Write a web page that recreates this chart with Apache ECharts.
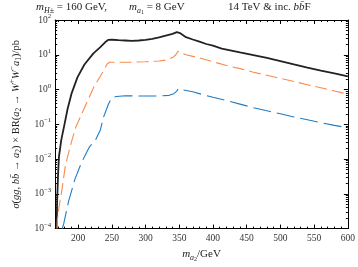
<!DOCTYPE html>
<html><head><meta charset="utf-8">
<script src="https://cdn.jsdelivr.net/npm/echarts@6/dist/echarts.min.js"></script>
<style>html,body{margin:0;padding:0;background:#fff}#c{width:358px;height:267px}</style>
</head><body><div id="c"></div>
<script>
// m_a2 (GeV) and sigma x BR (pb)
const massBlack = [168.2,168.8,170.2,171.6,175,179.6,184.4,190.5,199,209.4,222.7,233,240,245,250,260,270,280,290,300,310,320,330,340,346.5,349,352,360,370,380,390,400,413,440,460,480,500,520,540,560,580,600];
const xsecBlack = [1e-4,5e-4,3.2e-3,0.0115,0.035,0.095,0.275,0.79,2.24,5.25,11.0,16.6,22.9,26.9,27,26.3,25.7,25.1,25.7,26.9,28.8,31.6,35.5,39.8,44.7,47.9,41,32,27.5,24,20.4,18.2,15.1,11.7,9.8,8.1,6.6,5.3,4.3,3.5,2.9,2.4];
const massOrange = [168.8,169.2,171.6,176.3,181,188,196,209.4,223.5,237.7,243.4,247,260,280,300,320,332,340,345,348,352,360,380,400,420,440,460,480,500,520,540,560,580,600];
const xsecOrange = [1e-4,1.7e-4,4e-4,1.41e-3,6.3e-3,0.022,0.078,0.30,1.2,3.47,5.5,6.1,6.1,6.1,6.3,6.6,7.1,8.3,10,12.6,11.5,10,8.1,6.3,4.9,4.0,3.16,2.57,2.09,1.7,1.38,1.12,0.91,0.74];
const massBlue = [176.5,178.7,185.8,195.2,204.7,216.5,226,233,237.7,244.8,249.6,256.7,270,300,320,335,342,346,349,355,370,389,400,420,440,460,480,500,520,540,560,580,600];
const xsecBlue = [1e-4,1.38e-4,6e-4,2.6e-3,7.6e-3,0.022,0.036,0.069,0.16,0.37,0.575,0.63,0.66,0.65,0.65,0.68,0.76,0.89,1.07,0.98,0.86,0.68,0.60,0.48,0.38,0.30,0.245,0.20,0.162,0.135,0.112,0.093,0.079];
const xMajorTicks = [200,250,300,350,400,450,500,550,600];
const xMinorTicks = [170,180,190,210,220,230,240,260,270,280,290,310,320,330,340,360,370,380,390,410,420,430,440,460,470,480,490,510,520,530,540,560,570,580,590];
const yMajorTicks = [1e-4,1e-3,1e-2,1e-1,1,10,100];
const yMinorTicks = [];
for (let e = -4; e < 2; e++) for (let k = 2; k <= 9; k++) yMinorTicks.push(+(k * Math.pow(10, e)).toPrecision(3));

const FONT = 'Liberation Serif';
const zip = (a, b) => a.map((v, i) => [v, b[i]]);
const chart = echarts.init(document.getElementById('c'), null, {renderer: 'canvas'});
function mkRich(fs, col) {
  return {
    i: {fontFamily: FONT, fontStyle: 'italic', fontSize: fs, lineHeight: fs + 5, color: col},
    n: {fontFamily: FONT, fontSize: fs, lineHeight: fs + 5, color: col},
    s: {fontFamily: FONT, fontStyle: 'italic', fontSize: fs * 0.72, lineHeight: fs * 0.6, verticalAlign: 'bottom', color: col},
    sub: {fontFamily: FONT, fontSize: fs * 0.72, lineHeight: fs * 0.6, verticalAlign: 'bottom', color: col},
    ss: {fontFamily: FONT, fontSize: fs * 0.55, lineHeight: fs * 0.3, verticalAlign: 'bottom', color: col},
    sup: {fontFamily: FONT, fontSize: fs * 0.72, lineHeight: fs * 0.6, verticalAlign: 'top', color: col}
  };
}
const titleStyle = {rich: mkRich(11, '#222'), fontFamily: FONT, fontSize: 11, lineHeight: 16, fontWeight: 'normal', color: '#222'};
const axCommon = {type: 'value', min: 166, max: 600, splitLine: {show: false}};
const yCommon = {type: 'log', logBase: 10, min: 1e-4, max: 100, splitLine: {show: false}};
const lineStyle = {color: '#000', width: 1};
chart.setOption({
  animation: false,
  title: [
    {text: '{i|m}{s|H±}{n| = 160 GeV,}', left: 36, top: -1, padding: 0, textStyle: titleStyle},
    {text: '{i|m}{s|a}{ss|1}{n| = 8 GeV}', left: 129, top: -1, padding: 0, textStyle: titleStyle},
    {text: '{n|14 TeV & inc. }{i|bb\u0304}{n|F}', left: 228, top: -1, padding: 0, textStyle: titleStyle}
  ],
  grid: {left: 43, right: 10, top: 20, bottom: 28, containLabel: false},
  xAxis: [
    Object.assign({}, axCommon, {position: 'bottom', axisLine: {show: true, lineStyle},
      axisTick: {show: true, inside: true, length: 4, lineStyle, customValues: xMajorTicks},
      axisLabel: {show: true, customValues: xMajorTicks, fontFamily: FONT, fontSize: 9.5, color: '#333', margin: 5},
      name: '{i|m}{s|a}{ss|2}{n|/GeV}', nameLocation: 'middle', nameGap: 15,
      nameTextStyle: {rich: mkRich(11, '#222'), fontFamily: FONT, fontSize: 11, color: '#222'}}),
    Object.assign({}, axCommon, {position: 'bottom', axisLine: {show: false},
      axisTick: {show: true, inside: true, length: 2, lineStyle, customValues: xMinorTicks}, axisLabel: {show: false}}),
    Object.assign({}, axCommon, {position: 'top', axisLine: {show: true, lineStyle},
      axisTick: {show: true, inside: true, length: 4, lineStyle, customValues: xMajorTicks}, axisLabel: {show: false}}),
    Object.assign({}, axCommon, {position: 'top', axisLine: {show: false},
      axisTick: {show: true, inside: true, length: 2, lineStyle, customValues: xMinorTicks}, axisLabel: {show: false}})
  ],
  yAxis: [
    Object.assign({}, yCommon, {position: 'left', axisLine: {show: true, lineStyle},
      axisTick: {show: true, inside: true, length: 4, lineStyle, customValues: yMajorTicks},
      axisLabel: {show: true, customValues: yMajorTicks, margin: 4,
        formatter: v => { const e = Math.round(Math.log10(v)); return '{n|10}{sup|' + (e < 0 ? '\u2212' + (-e) : e) + '}'; },
        rich: mkRich(9.5, '#333')},
      name: '{i|σ}{n|(}{i|gg}{n|, }{i|bb\u0304}{n| → }{i|a}{sub|2}{n|) × BR(}{i|a}{sub|2}{n| → }{i|W}{sup|+}{i|W}{sup|\u2212}{i|a}{sub|1}{n|)/pb}',
      nameLocation: 'middle', nameRotate: 90, nameGap: 27,
      nameTextStyle: {fontFamily: FONT, fontSize: 10.5, color: '#222', rich: mkRich(10.5, '#222')}}),
    Object.assign({}, yCommon, {position: 'left', axisLine: {show: false},
      axisTick: {show: true, inside: true, length: 2, lineStyle, customValues: yMinorTicks}, axisLabel: {show: false}}),
    Object.assign({}, yCommon, {position: 'right', axisLine: {show: true, lineStyle},
      axisTick: {show: true, inside: true, length: 4, lineStyle, customValues: yMajorTicks}, axisLabel: {show: false}}),
    Object.assign({}, yCommon, {position: 'right', axisLine: {show: false},
      axisTick: {show: true, inside: true, length: 2, lineStyle, customValues: yMinorTicks}, axisLabel: {show: false}})
  ],
  series: [
    {type: 'line', data: zip(massBlack, xsecBlack), showSymbol: false, symbol: 'none', clip: true,
      lineStyle: {color: '#222', width: 1.8}},
    {type: 'line', data: zip(massOrange, xsecOrange), showSymbol: false, symbol: 'none', clip: true,
      lineStyle: {color: '#f98b4c', width: 1.1, type: [12, 5]}},
    {type: 'line', data: zip(massBlue, xsecBlue), showSymbol: false, symbol: 'none', clip: true,
      lineStyle: {color: '#1f7cc4', width: 1.1, type: [18, 6]}}
  ]
});
</script></body></html>
